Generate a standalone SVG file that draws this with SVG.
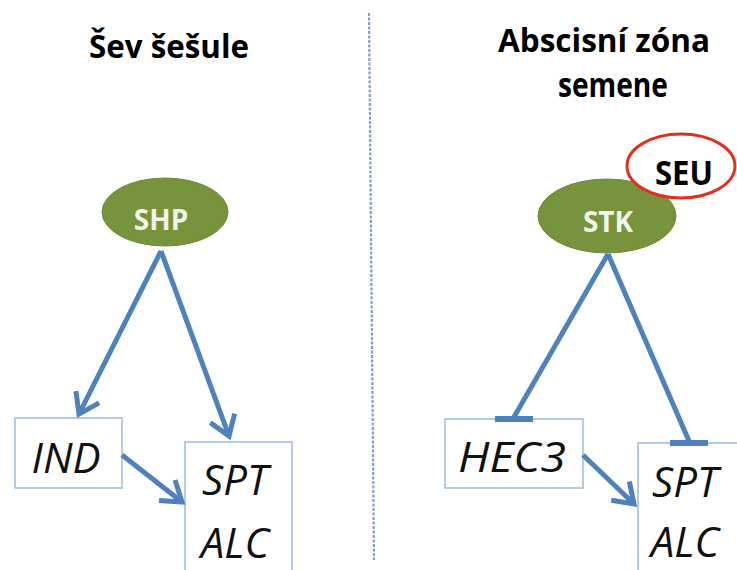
<svg xmlns="http://www.w3.org/2000/svg" width="737" height="570" viewBox="0 0 737 570">
<style>
.title{font-family:"Open Sans","Noto Sans","Liberation Sans",sans-serif;font-weight:bold;font-size:32px;fill:#000;text-anchor:middle}
.gtxt{font-family:"Open Sans","Noto Sans","Liberation Sans",sans-serif;font-weight:bold;font-size:28px;fill:#F2F6E6;text-anchor:middle}
.gene{font-family:"Open Sans","Noto Sans","Liberation Sans",sans-serif;font-style:italic;font-size:42px;fill:#111;text-anchor:middle}
.box{fill:#fff;stroke:#9DBBDD;stroke-width:1.5}
.node{fill:#77933C;stroke:#6E8A36;stroke-width:1}
.edge{stroke:#4F81BD;stroke-width:5;fill:none}
.bar{stroke:#4F81BD;stroke-width:6;stroke-linecap:butt}
</style>
<defs>
<marker id="arr" markerUnits="userSpaceOnUse" markerWidth="40" markerHeight="40" viewBox="-30 -20 40 40" refX="0" refY="0" orient="auto" overflow="visible">
<path d="M-19,-13 L0,0 L-19,13" fill="none" stroke="#4F81BD" stroke-width="5" stroke-linejoin="miter"/>
</marker>
</defs>
<line x1="369" y1="13" x2="374" y2="560" stroke="#7F9FCC" stroke-width="2.2" stroke-dasharray="3 1.5"/>
<text class="title" x="169" y="58" textLength="160" lengthAdjust="spacingAndGlyphs">Šev šešule</text>
<text class="title" x="604" y="52" textLength="212" lengthAdjust="spacingAndGlyphs">Abscisní zóna</text>
<text class="title" x="613" y="97" style="font-size:34px" textLength="110" lengthAdjust="spacingAndGlyphs">semene</text>
<g id="SHP">
<ellipse class="node" cx="165" cy="212" rx="63" ry="34"/>
<text class="gtxt" x="161" y="230">SHP</text>
</g>
<g id="STK">
<ellipse class="node" cx="607" cy="216" rx="69" ry="37"/>
<text class="gtxt" x="608" y="232">STK</text>
</g>
<g id="SEU">
<ellipse cx="681" cy="166" rx="54" ry="32" fill="#fff" stroke="#E0311F" stroke-width="3"/>
<text x="684" y="185" font-family="'Open Sans','Noto Sans','Liberation Sans',sans-serif" font-weight="bold" font-size="34" fill="#000" text-anchor="middle" textLength="58" lengthAdjust="spacingAndGlyphs">SEU</text>
</g>
<g id="IND">
<rect class="box" x="15" y="418" width="107" height="70"/>
<text class="gene" x="66" y="473">IND</text>
</g>
<g id="SPT_ALC_left">
<rect class="box" x="185" y="442" width="107" height="140"/>
<text class="gene" x="235" y="495">SPT</text>
<text class="gene" x="235" y="558">ALC</text>
</g>
<g id="HEC3">
<rect class="box" x="445" y="419" width="138" height="69"/>
<text class="gene" x="512" y="472" textLength="108" lengthAdjust="spacingAndGlyphs">HEC3</text>
</g>
<g id="SPT_ALC_right">
<rect class="box" x="638" y="443" width="110" height="140"/>
<text class="gene" x="685" y="497">SPT</text>
<text class="gene" x="685" y="557">ALC</text>
</g>
<g id="connectors">
<line class="edge" x1="161" y1="251" x2="79" y2="414" marker-end="url(#arr)"/>
<line class="edge" x1="161" y1="251" x2="229" y2="436" marker-end="url(#arr)"/>
<line class="edge" x1="122" y1="455" x2="182" y2="502" marker-end="url(#arr)"/>
<line class="edge" x1="608" y1="254" x2="514" y2="417"/>
<line class="bar" x1="495" y1="419" x2="533" y2="419"/>
<line class="edge" x1="608" y1="254" x2="689" y2="441"/>
<line class="bar" x1="670" y1="443" x2="708" y2="443"/>
<line class="edge" x1="583" y1="455" x2="634" y2="504" marker-end="url(#arr)"/>
</g>
</svg>
